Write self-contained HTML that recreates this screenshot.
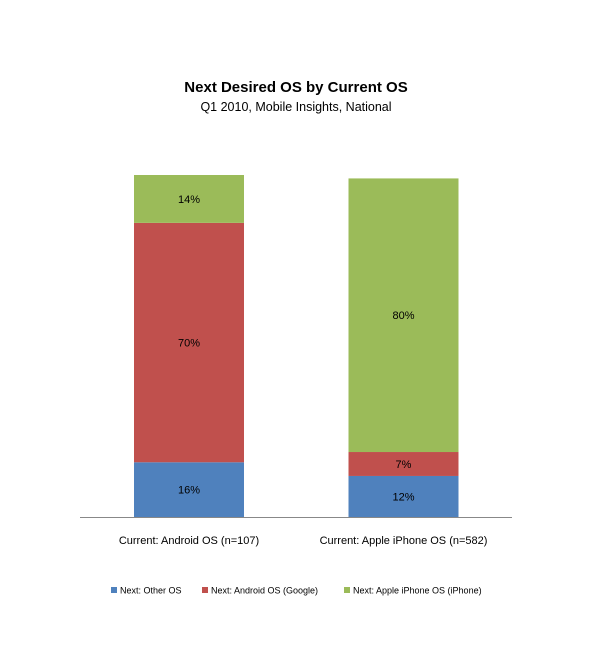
<!DOCTYPE html>
<html><head><meta charset="utf-8"><style>
body{margin:0;background:#fff;font-family:"Liberation Sans",sans-serif}
</style></head><body>
<svg width="600" height="661" xmlns="http://www.w3.org/2000/svg" id="chart">
<text x="296" y="92" text-anchor="middle" font-size="15" font-weight="bold" fill="#000">Next Desired OS by Current OS</text>
<text x="296" y="111" text-anchor="middle" font-size="12.5" fill="#000">Q1 2010, Mobile Insights, National</text>
<line x1="80" y1="517.5" x2="512" y2="517.5" stroke="#888" stroke-width="1"/>
<g id="bars"></g>
<g id="legend"></g>
</svg>
<script>
const categories=["Current: Android OS (n=107)","Current: Apple iPhone OS (n=582)"];
const seriesNames=["Next: Other OS","Next: Android OS (Google)","Next: Apple iPhone OS (iPhone)"];
const otherOS=[16,12];
const androidOS=[70,7];
const iphoneOS=[14,80];
const colors=["#4f81bd","#c0504d","#9bbb59"];
const NS="http://www.w3.org/2000/svg";
const base=517, pxPer=3.42, centers=[189,403.5], bw=110;
function y(v){return base-v*pxPer;}
const series=[otherOS,androidOS,iphoneOS];
const g=document.getElementById('bars');
categories.forEach((c,i)=>{
  let cum=0;
  series.forEach((s,k)=>{
    const v=s[i];
    const r=document.createElementNS(NS,'rect');
    r.setAttribute('x',centers[i]-bw/2);r.setAttribute('y',y(cum+v));
    r.setAttribute('width',bw);r.setAttribute('height',v*pxPer);
    r.setAttribute('fill',colors[k]);
    
    
    g.appendChild(r);
    const t=document.createElementNS(NS,'text');
    t.setAttribute('x',centers[i]);t.setAttribute('y',y(cum+v/2)+4);
    t.setAttribute('text-anchor','middle');t.setAttribute('font-size','11');
    t.textContent=v+'%';
    
    
    g.appendChild(t);
    cum+=v;
  });
  const l=document.createElementNS(NS,'text');
  l.setAttribute('x',centers[i]);l.setAttribute('y',544);
  l.setAttribute('text-anchor','middle');l.setAttribute('font-size','11');
  l.textContent=c;
  
  
  g.appendChild(l);
});
const lg=document.getElementById('legend');
const lx=[111,202,344];
seriesNames.forEach((n,k)=>{
  const r=document.createElementNS(NS,'rect');
  r.setAttribute('x',lx[k]);r.setAttribute('y',587);r.setAttribute('width',6);r.setAttribute('height',6);
  r.setAttribute('fill',colors[k]);
  
  
  lg.appendChild(r);
  const t=document.createElementNS(NS,'text');
  t.setAttribute('x',lx[k]+9);t.setAttribute('y',593.5);t.setAttribute('font-size','9');
  t.textContent=n;
  
  
  lg.appendChild(t);
});
</script>
</body></html>
